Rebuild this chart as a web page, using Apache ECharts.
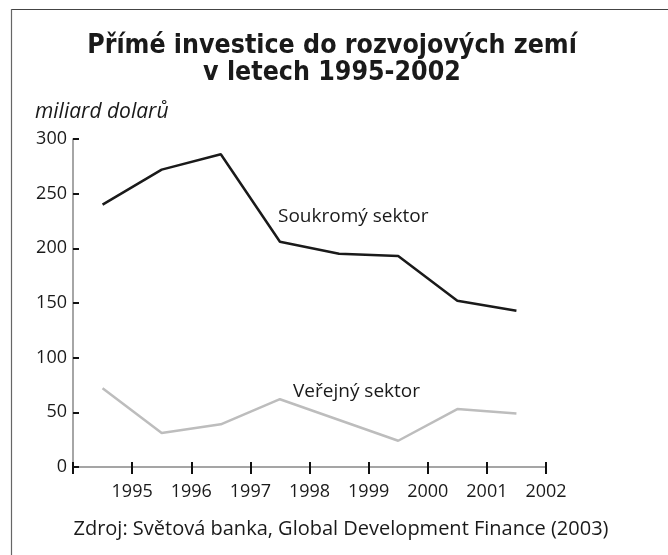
<!DOCTYPE html>
<html>
<head>
<meta charset="utf-8">
<script src="https://cdn.jsdelivr.net/npm/echarts@6/dist/echarts.min.js"></script>
<style>
  html, body { margin: 0; padding: 0; background: #fff; }
  #chart { width: 668px; height: 555px; }
</style>
</head>
<body>
<div id="chart"></div>
<script>
// years are drawn half a step before their label (values sit between ticks)
const years = [1994.5, 1995.5, 1996.5, 1997.5, 1998.5, 1999.5, 2000.5, 2001.5]
const soukromy = [240, 272, 286, 206, 195, 193, 152, 143]
const verejny = [72, 31, 39, 62, 43, 24, 53, 49]
const tickYears = [1995, 1996, 1997, 1998, 1999, 2000, 2001, 2002]

const bodyFont = 'Open Sans'
const chart = echarts.init(document.getElementById('chart'))

const pairs = arr => years.map((y, i) => [y, arr[i]])

chart.setOption({
  animation: false,
  backgroundColor: '#fff',
  title: [
    {
      text: 'Přímé investice do rozvojových zemí\nv letech 1995-2002',
      left: 327, top: 28, textAlign: 'center',
      textStyle: { fontFamily: '"DejaVu Sans Condensed", "DejaVu Sans", sans-serif', fontWeight: 'bold', fontSize: 26.5, lineHeight: 27, color: '#1a1a1a' }
    },
    {
      text: 'miliard dolarů',
      left: 30, top: 97,
      textStyle: { fontFamily: bodyFont, fontStyle: 'italic', fontWeight: 'normal', fontSize: 21, color: '#1a1a1a' }
    },
    {
      text: 'Soukromý sektor',
      left: 273, top: 202,
      textStyle: { fontFamily: bodyFont, fontWeight: 'normal', fontSize: 19, color: '#1a1a1a' }
    },
    {
      text: 'Veřejný sektor',
      left: 288, top: 377,
      textStyle: { fontFamily: bodyFont, fontWeight: 'normal', fontSize: 19, color: '#1a1a1a' }
    },
    {
      text: 'Zdroj: Světová banka, Global Development Finance (2003)',
      left: 336, top: 514, textAlign: 'center',
      textStyle: { fontFamily: bodyFont, fontWeight: 'normal', fontSize: 20, color: '#1a1a1a' }
    }
  ],
  graphic: [
    { type: 'line', shape: { x1: 11, y1: 9.5, x2: 668, y2: 9.5 }, style: { stroke: '#444', lineWidth: 1.2 } },
    { type: 'line', shape: { x1: 11.5, y1: 9, x2: 11.5, y2: 555 }, style: { stroke: '#666', lineWidth: 1.2 } }
  ],
  grid: { left: 73, right: 122, top: 139, bottom: 88 },
  xAxis: [
    {
      type: 'value', min: 1994, max: 2002, interval: 1,
      axisLine: { lineStyle: { color: '#888', width: 1.5 } },
      axisTick: { inside: true, length: 5, lineStyle: { color: '#111', width: 2 } },
      axisLabel: {
        margin: 16, fontFamily: bodyFont, fontSize: 18, color: '#1a1a1a',
        formatter: v => tickYears.includes(v) ? String(v) : ''
      },
      splitLine: { show: false }
    },
    {
      type: 'value', min: 1994, max: 2002, interval: 1, position: 'bottom',
      axisLine: { show: false },
      axisTick: { length: 7, lineStyle: { color: '#111', width: 2 } },
      axisLabel: { show: false },
      splitLine: { show: false }
    }
  ],
  yAxis: {
    type: 'value', min: 0, max: 300, interval: 50,
    axisLine: { show: true, lineStyle: { color: '#888', width: 1.5 } },
    axisTick: { show: true, inside: true, length: 6, lineStyle: { color: '#111', width: 2 } },
    axisLabel: { margin: 6, fontFamily: bodyFont, fontSize: 18, color: '#1a1a1a' },
    splitLine: { show: false }
  },
  series: [
    {
      name: 'Soukromý sektor', type: 'line', xAxisIndex: 0,
      data: pairs(soukromy), symbol: 'none',
      lineStyle: { color: '#1a1a1a', width: 2.5 }
    },
    {
      name: 'Veřejný sektor', type: 'line', xAxisIndex: 0,
      data: pairs(verejny), symbol: 'none',
      lineStyle: { color: '#bdbdbd', width: 2.5 }
    }
  ]
})
</script>
</body>
</html>
